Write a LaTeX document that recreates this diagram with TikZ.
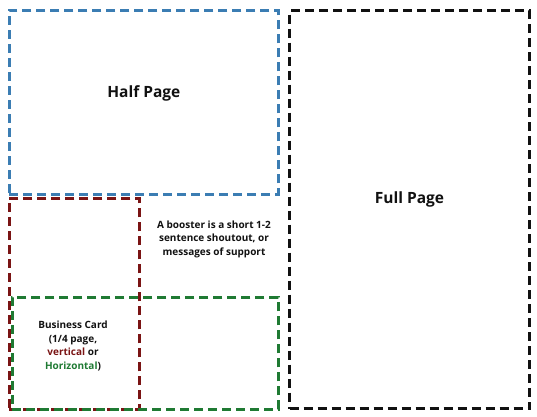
\documentclass[tikz,border=0pt]{standalone}
\usepackage{fontspec}
\setmainfont{Open Sans}
\usetikzlibrary{positioning}
\definecolor{halfblue}{HTML}{3B7DB3}
\definecolor{vertred}{HTML}{7A1414}
\definecolor{horizgreen}{HTML}{1F7A33}
\definecolor{ink}{HTML}{111111}

\begin{document}
\begin{tikzpicture}[
    x=1pt, y=1pt,
    font=\bfseries,
    text=ink,
    slot/.style={
        draw,
        line width=2.6pt,
        dash pattern=on 9pt off 5pt,
        inner sep=0pt,
        anchor=north west
    },
    bigtext/.style={font=\fontsize{15.5}{19}\selectfont\bfseries},
    smalltext/.style={font=\fontsize{10}{13.5}\selectfont\bfseries,
        align=center}
]
\useasboundingbox (0,0) rectangle (537,-416);

% page slots
\node[slot, draw=halfblue, minimum width=269pt, minimum height=184pt]
    (half) at (8,-9) {};
\node[slot, draw=ink, line width=3pt, minimum width=240pt, minimum height=398pt]
    (full) at (288,-9) {};
\node[slot, draw=vertred, minimum width=130pt, minimum height=211pt]
    (vert) at (8,-197) {};
\node[slot, draw=horizgreen, minimum width=266pt, minimum height=112pt]
    (horiz) at (11,-296) {};

% labels
\node[bigtext] (halflabel) at ([yshift=9pt]half.center) {Half Page};
\node[bigtext] (fulllabel) at ([yshift=10pt]full.center) {Full Page};
\node[smalltext] (booster) at (214,-239)
    {A booster is a short 1-2\\sentence shoutout, or\\messages of support};
\node[smalltext] (card) at (73,-346)
    {Business Card\\(1/4 page,\\\textcolor{vertred}{vertical} or\\
     \textcolor{horizgreen}{Horizontal})};

\end{tikzpicture}
\end{document}
